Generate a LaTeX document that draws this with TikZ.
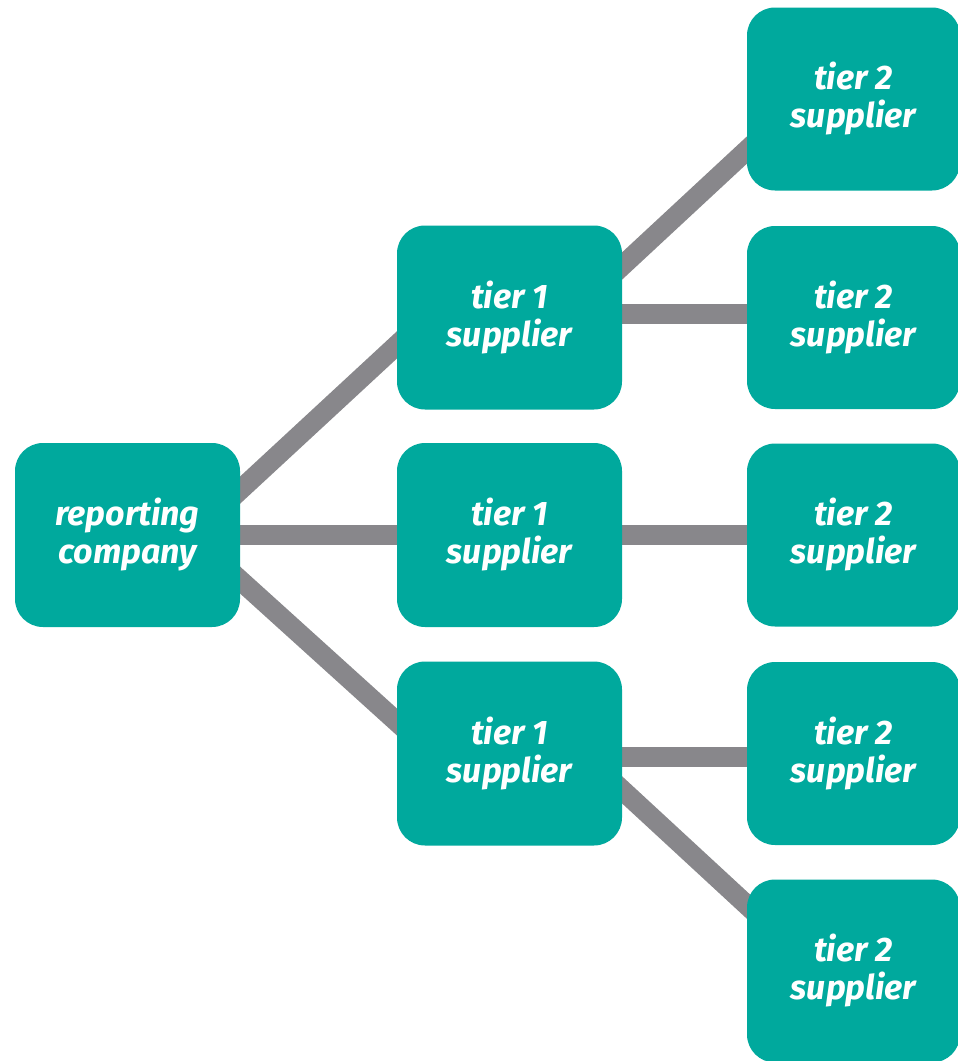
\documentclass[tikz,border=0pt]{standalone}
\usepackage{fontspec}
\setmainfont{Fira Sans}
\usetikzlibrary{backgrounds}
\definecolor{teal1}{HTML}{00A99D}
\definecolor{link}{HTML}{88878B}
\tikzset{
  box/.style={fill=teal1, rounded corners=28pt, minimum width=225pt, minimum height=184pt,
    text=white, align=center, inner sep=0pt,
    font=\fontsize{34}{38}\selectfont\bfseries\itshape},
  boxb/.style={box, minimum width=213pt, minimum height=183pt},
  conn/.style={draw=link, line width=20pt}
}
\begin{document}
\begin{tikzpicture}[x=1pt,y=-1pt]
\useasboundingbox (0,0) rectangle (958,1061);
\node[box] (rc) at (127.5,535) {reporting\\company};
\node[box] (t1a) at (509.5,317.5) {tier 1\\supplier};
\node[box] (t1b) at (509.5,535) {tier 1\\supplier};
\node[box] (t1c) at (509.5,753.5) {tier 1\\supplier};
\node[boxb] (t2a) at (853.5,99) {tier 2\\supplier};
\node[boxb] (t2b) at (853.5,317.5) {tier 2\\supplier};
\node[boxb] (t2c) at (853.5,535) {tier 2\\supplier};
\node[boxb] (t2d) at (853.5,753.5) {tier 2\\supplier};
\node[boxb] (t2e) at (853.5,971) {tier 2\\supplier};
\begin{scope}[on background layer]
\fill[white] (0,0) rectangle (958,1061);
\draw[conn] ([shift={(-40,-8)}]rc.east) -- ([shift={(40,-9.5)}]t1a.west);
\draw[conn] (rc.center) -- (t1b.center);
\draw[conn] ([shift={(-40,9)}]rc.east) -- ([shift={(40,4.5)}]t1c.west);
\draw[conn] ([shift={(-40,-14.5)}]t1a.east) -- ([shift={(40,14)}]t2a.west);
\draw[conn] ([yshift=4pt]t1a.center) -- ([yshift=4pt]t2b.center);
\draw[conn] (t1b.center) -- (t2c.center);
\draw[conn] ([yshift=-3pt]t1c.center) -- ([yshift=-3pt]t2d.center);
\draw[conn] ([shift={(-40,-0.5)}]t1c.east) -- ([shift={(40,-29)}]t2e.west);
\end{scope}
\end{tikzpicture}
\end{document}
